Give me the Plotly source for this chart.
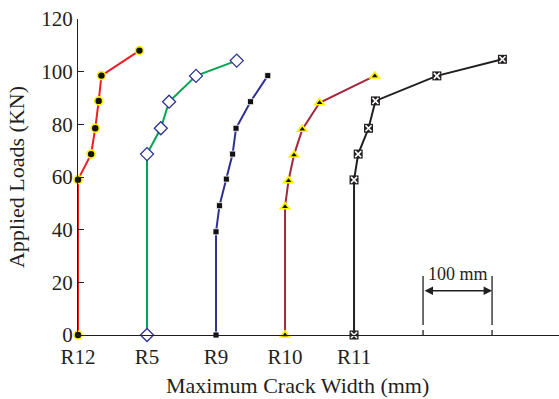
import plotly.graph_objects as go

# ---- data ----
specimens = ["R12", "R5", "R9", "R10", "R11"]
offsets = [0, 100, 200, 300, 400]
y_ticks = [0, 20, 40, 60, 80, 100, 120]

r12_width = [0, 0, 19, 25, 30, 34, 89]
r12_load = [0, 59, 68.7, 78.5, 88.9, 98.5, 108]
r5_width = [0, 0, 20, 32, 71, 130]
r5_load = [0, 68.7, 78.5, 88.6, 98.4, 104.2]
r9_width = [0, 0, 5, 15, 24, 29, 50, 75]
r9_load = [0, 39.2, 49.1, 59.2, 68.7, 78.5, 88.6, 98.5]
r10_width = [0, 0, 5, 13, 25, 50, 130]
r10_load = [0, 48.7, 58.6, 68.4, 78.1, 88.2, 98.4]
r11_width = [0, 0, 6, 21, 31, 120, 215]
r11_load = [0, 58.9, 68.7, 78.5, 88.9, 98.4, 104.7]

scale_start = 500
scale_end = 600
scale_label = "100 mm"

FONT = "Liberation Serif, Times New Roman, serif"
TXT = "#231f20"

fig = go.Figure()

def add(width, load, off, line_color, marker):
    xs = [off + w for w in width]
    fig.add_trace(go.Scatter(x=xs, y=load, mode="lines+markers",
                             line=dict(color=line_color, width=2),
                             marker=marker, cliponaxis=False, showlegend=False))
    return xs

add(r12_width, r12_load, offsets[0], "#ee1c25",
    dict(symbol="circle", size=8, color="#111111", line=dict(color="#fff200", width=1.6)))
add(r5_width, r5_load, offsets[1], "#00a651",
    dict(symbol="diamond", size=10, color="white", line=dict(color="#2e3192", width=1.3)))
add(r9_width, r9_load, offsets[2], "#2e3192",
    dict(symbol="square", size=6, color="#111111", line=dict(color="white", width=0.8)))
xs10 = add(r10_width, r10_load, offsets[3], "#a3283a",
           dict(symbol="triangle-up", size=11, color="#fff200", line=dict(width=0)))
fig.add_trace(go.Scatter(x=xs10, y=r10_load, mode="markers", cliponaxis=False, showlegend=False,
                         marker=dict(symbol="triangle-up", size=5, color="#111111")))
xs11 = add(r11_width, r11_load, offsets[4], "#231f20",
           dict(symbol="square", size=9, color="#231f20", line=dict(width=0)))
fig.add_trace(go.Scatter(x=xs11, y=r11_load, mode="markers", cliponaxis=False, showlegend=False,
                         marker=dict(symbol="x-thin-open", size=6, color="white",
                                     line=dict(color="white", width=1.6))))

# scale bar
for xv in (scale_start, scale_end):
    fig.add_shape(type="line", x0=xv, x1=xv, y0=3.8, y1=22.4, xref="x", yref="y",
                  line=dict(color=TXT, width=1.3))
    fig.add_shape(type="line", x0=xv, x1=xv, y0=0, y1=1.9, xref="x", yref="y",
                  line=dict(color=TXT, width=1.3))
fig.add_annotation(x=scale_end, y=16.8, ax=scale_start, ay=16.8, xref="x", yref="y",
                   axref="x", ayref="y", text="", showarrow=True, arrowside="end+start",
                   arrowhead=2, arrowsize=1.3, arrowwidth=1.3, arrowcolor=TXT)
fig.add_annotation(x=(scale_start + scale_end) / 2, y=23, xref="x", yref="y",
                   text=scale_label, showarrow=False, font=dict(family=FONT, size=18, color=TXT))

# x title
fig.add_annotation(x=0.457, y=-0.161, xref="paper", yref="paper", text="Maximum Crack Width (mm)",
                   showarrow=False, yanchor="middle", font=dict(family=FONT, size=22, color=TXT))

fig.update_layout(
    width=559, height=399,
    margin=dict(l=78, r=0, t=19, b=64, autoexpand=False),
    paper_bgcolor="white", plot_bgcolor="white",
    font=dict(family=FONT, size=21, color=TXT),
    showlegend=False,
    xaxis=dict(range=[0, 697], tickmode="array", tickvals=offsets, ticktext=specimens,
               automargin=False, ticklabelstandoff=3,
               showgrid=False, zeroline=False, showline=True, linecolor=TXT, linewidth=1.3,
               ticks="", tickfont=dict(family=FONT, size=21, color=TXT)),
    yaxis=dict(range=[0, 120], tickmode="array", tickvals=y_ticks, automargin=False,
               showgrid=False, zeroline=False, showline=True, linecolor=TXT, linewidth=1.3,
               ticks="inside", ticklen=6, tickcolor=TXT, tickwidth=1.2,
               tickfont=dict(family=FONT, size=21, color=TXT),
               title=dict(text="Applied Loads (KN)", font=dict(family=FONT, size=22, color=TXT),
                          standoff=10)),
)

# remove the browser's default page margin so the figure fills the window exactly
fig.write_html("out.html", config={"displayModeBar": False},
               post_script="document.body.style.margin='0px';document.body.style.overflow='hidden';")
